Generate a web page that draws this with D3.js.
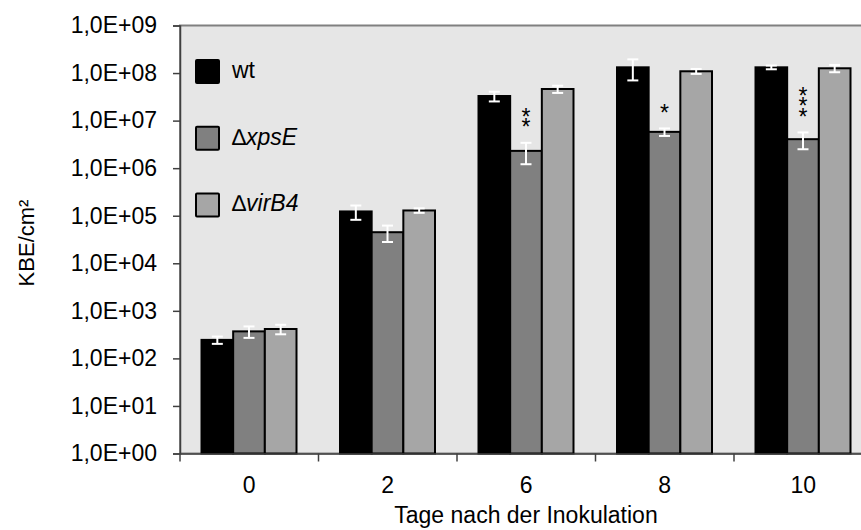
<!DOCTYPE html>
<html>
<head>
<meta charset="utf-8">
<script src="https://cdn.jsdelivr.net/npm/d3@7"></script>
<style>
  html, body { margin: 0; padding: 0; background: #fff; }
  svg { display: block; font-family: "Liberation Sans", Arial, sans-serif; }
</style>
</head>
<body>
<svg id="chart" width="861" height="530"></svg>
<script>
// ---- data ----
const categories = ["0", "2", "6", "8", "10"];
const seriesNames = ["wt", "xpsE", "virB4"];
const wtMean    = [245, 1.23e5, 3.29e7, 1.32e8, 1.32e8];
const wtSd      = [43, 4.1e4, 7.6e6, 6.2e7, 1.2e7];
const xpsEMean  = [370, 4.5e4, 2.31e6, 5.8e6, 4.07e6];
const xpsESd    = [100, 1.7e4, 1.1e6, 1.04e6, 1.57e6];
const virB4Mean = [415, 1.29e5, 4.62e7, 1.09e8, 1.26e8];
const virB4Sd   = [94, 1.4e4, 8e6, 1.3e7, 2.2e7];
const significance = ["", "", "**", "*", "***"];
const yTickValues = [1, 1e1, 1e2, 1e3, 1e4, 1e5, 1e6, 1e7, 1e8, 1e9];
const yTickLabels = ["1,0E+00", "1,0E+01", "1,0E+02", "1,0E+03", "1,0E+04",
                     "1,0E+05", "1,0E+06", "1,0E+07", "1,0E+08", "1,0E+09"];
const legendLabels = ["wt", "xpsE", "virB4"];
const xTitle = "Tage nach der Inokulation";
const yTitle = "KBE/cm²";

// ---- styles ----
const colors = ["#000000", "#808080", "#a6a6a6"];
const means = [wtMean, xpsEMean, virB4Mean];
const sds = [wtSd, xpsESd, virB4Sd];
const FS = 23;

const svg = d3.select("#chart");
const pLeft = 180, pTop = 25.5, pBottom = 453.5, catW = 138.5;
const pRight = pLeft + catW * categories.length;

const x = d3.scaleBand().domain(categories).range([pLeft, pRight]).padding(0);
const xs = d3.scaleBand().domain(seriesNames).range([21.5, 116.5]).padding(0);
const y = d3.scaleLog().domain([1, 1e9]).range([pBottom, pTop]);

// plot area
svg.append("rect")
  .attr("x", pLeft).attr("y", pTop).attr("width", pRight - pLeft).attr("height", pBottom - pTop)
  .attr("fill", "#e6e6e6").attr("stroke", "#808080").attr("stroke-width", 2);

// bars
const rows = [];
categories.forEach((c, i) => {
  seriesNames.forEach((s, j) => {
    rows.push({ c, s, j, i, v: means[j][i], sd: sds[j][i] });
  });
});

const g = svg.append("g");
g.selectAll("rect.bar").data(rows).join("rect")
  .attr("class", "bar")
  .attr("x", d => x(d.c) + xs(d.s))
  .attr("width", xs.bandwidth())
  .attr("y", d => y(d.v))
  .attr("height", d => pBottom - y(d.v))
  .attr("fill", d => colors[d.j])
  .attr("stroke", "#000").attr("stroke-width", 2);

// error bars
const capW = 11;
const cxOf = d => x(d.c) + xs(d.s) + xs.bandwidth() / 2;
const eb = g.selectAll("g.eb").data(rows).join("g").attr("class", "eb")
  .attr("stroke", "#fff").attr("stroke-width", 2);
eb.append("line")
  .attr("x1", cxOf).attr("x2", cxOf)
  .attr("y1", d => y(d.v + d.sd))
  .attr("y2", d => y(Math.max(d.v - d.sd, 1)));
eb.append("line")
  .attr("x1", d => cxOf(d) - capW / 2).attr("x2", d => cxOf(d) + capW / 2)
  .attr("y1", d => y(d.v + d.sd)).attr("y2", d => y(d.v + d.sd));
eb.append("line")
  .attr("x1", d => cxOf(d) - capW / 2).attr("x2", d => cxOf(d) + capW / 2)
  .attr("y1", d => y(Math.max(d.v - d.sd, 1))).attr("y2", d => y(Math.max(d.v - d.sd, 1)));

// significance stars (stacked vertically above the xpsE bar), one text per group
categories.forEach((c, i) => {
  const n = significance[i].length;
  if (!n) return;
  const cx = x(c) + xs("xpsE") + xs.bandwidth() / 2;
  const topErr = y(xpsEMean[i] + xpsESd[i]);
  const firstCy = topErr - 20 - (n - 1) * 10.5;
  const t = svg.append("text").attr("text-anchor", "middle")
    .attr("font-size", FS).attr("fill", "#000");
  for (let k = 0; k < n; k++) {
    t.append("tspan").attr("x", cx).attr("y", firstCy + k * 10.5 + 12.5).text("*");
  }
});

// axes
const yAxis = d3.axisLeft(y).tickValues(yTickValues)
  .tickFormat((d, i) => yTickLabels[i]).tickSize(7).tickPadding(16);
const ya = svg.append("g").attr("transform", `translate(${pLeft},0)`).call(yAxis);
ya.select(".domain").attr("stroke", "#404040").attr("stroke-width", 1.5);
ya.selectAll(".tick line").attr("stroke", "#404040").attr("stroke-width", 1.5);
ya.selectAll(".tick text").attr("font-size", FS).attr("fill", "#000")
  .attr("font-family", "Liberation Sans, Arial, sans-serif");

const xAxis = d3.axisBottom(x).tickSize(0).tickPadding(23);
const xa = svg.append("g").attr("transform", `translate(0,${pBottom})`).call(xAxis);
xa.select(".domain").attr("stroke", "#404040").attr("stroke-width", 1.5);
xa.selectAll(".tick text").attr("font-size", FS).attr("fill", "#000")
  .attr("font-family", "Liberation Sans, Arial, sans-serif");
// boundary ticks between categories
svg.append("g").selectAll("line").data(d3.range(categories.length + 1)).join("line")
  .attr("x1", i => pLeft + i * catW).attr("x2", i => pLeft + i * catW)
  .attr("y1", pBottom).attr("y2", pBottom + 8)
  .attr("stroke", "#404040").attr("stroke-width", 1.5);

// titles
svg.append("text").attr("x", 526).attr("y", 523)
  .attr("text-anchor", "middle").attr("font-size", FS).text(xTitle);
svg.append("text").attr("transform", `translate(34,243) rotate(-90)`)
  .attr("text-anchor", "middle").attr("font-size", 22).text(yTitle);

// legend
const lg = svg.append("g");
legendLabels.forEach((l, j) => {
  const ly = 60 + j * 66.7;
  lg.append("rect").attr("x", 196).attr("y", ly).attr("width", 23).attr("height", 23)
    .attr("fill", colors[j]).attr("stroke", "#000").attr("stroke-width", 2).attr("rx", 1);
  const t = lg.append("text").attr("x", 232).attr("y", ly + 18).attr("font-size", FS);
  if (j === 0) {
    t.text(l);
  } else {
    t.append("tspan").text("\u2206");
    t.append("tspan").attr("font-style", "italic").text(l);
  }
});
</script>
</body>
</html>
